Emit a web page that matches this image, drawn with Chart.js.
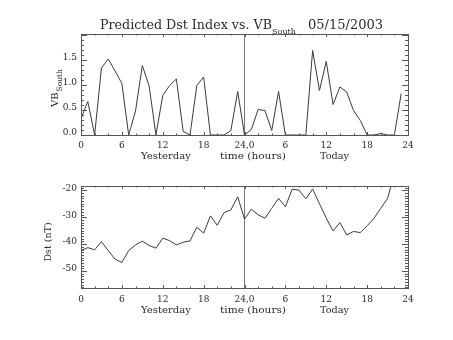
<!DOCTYPE html>
<html><head><meta charset="utf-8">
<script src="https://cdn.jsdelivr.net/npm/chart.js@4/dist/chart.umd.min.js"></script>
<style>
html,body{margin:0;padding:0;background:#fff;width:453px;height:340px;overflow:hidden}
canvas{position:absolute;left:0}
#c1{top:0}
#c2{top:170px}
</style></head><body>
<canvas id="c1" width="453" height="170"></canvas>
<canvas id="c2" width="453" height="170"></canvas>
<script>
// ---- data ----
const hours = [0,1,2,3,4,5,6,7,8,9,10,11,12,13,14,15,16,17,18,19,20,21,22,23,
               24,25,26,27,28,29,30,31,32,33,34,35,36,37,38,39,40,41,42,43,44,45,46,47];
const vbSouth = [0.33,0.67,0.00,1.34,1.52,1.28,1.03,0.00,0.48,1.39,0.98,0.00,
                 0.79,0.99,1.12,0.07,0.00,0.99,1.16,0.00,0.00,0.00,0.09,0.87,
                 0.00,0.11,0.51,0.49,0.09,0.87,0.00,0.00,0.00,0.00,1.69,0.89,
                 1.47,0.61,0.96,0.86,0.49,0.29,0.00,0.00,0.03,0.00,0.00,0.83];
const dst = [-42.4,-41.3,-42.1,-39.1,-42.4,-45.6,-46.8,-42.4,-40.3,-38.9,-40.5,-41.5,
             -37.8,-38.7,-40.3,-39.3,-38.8,-33.7,-35.9,-29.5,-33.0,-28.3,-27.3,-22.4,
             -30.7,-27.0,-29.1,-30.4,-26.7,-23.0,-26.1,-19.6,-19.9,-23.2,-19.5,-25.0,
             -30.3,-35.1,-32.0,-36.6,-35.3,-35.7,-33.2,-30.4,-26.7,-23.0,-14.0,-8.0];
const dayBoundary = 24;
const xTickValues = [0,6,12,18,24,30,36,42,48];
const xTickLabels = ['0','6','12','18','24,0','6','12','18','24'];
const vbTickValues = [0,0.5,1.0,1.5];
const vbTickLabels = ['0.0','0.5','1.0','1.5'];
const dstTickValues = [-50,-40,-30,-20];
const dstTickLabels = ['-50','-40','-30','-20'];
const xTitleParts = ['Yesterday','time (hours)','Today'];
const titleMain = 'Predicted Dst Index vs. VB';
const titleSub = 'South';
const titleDate = '05/15/2003';

// ---- styles ----
const FONT = '"DejaVu Serif", "Liberation Serif", serif';
const TXT = '#2a2a2a';
const LINE = '#3a3a3a';
const FRAME = '#555';

function fitText(ctx, text, x, y, w, size){
  ctx.font = size + 'px ' + FONT;
  const m = ctx.measureText(text).width;
  ctx.save(); ctx.translate(x, y); ctx.scale(w / m, 1);
  ctx.fillText(text, 0, 0); ctx.restore();
}

function framePlugin(conf){
  return {
    id: 'frame_' + conf.name,
    afterDatasetsDraw(chart){
      const ctx = chart.ctx, a = chart.chartArea;
      const xs = chart.scales.x, ys = chart.scales.y;
      ctx.save();
      ctx.strokeStyle = FRAME; ctx.lineWidth = 1;
      const L = Math.round(a.left), R = Math.round(a.right), T = Math.round(a.top), B = Math.round(a.bottom);
      ctx.strokeRect(L + 0.5, T + 0.5, R - L, B - T);
      ctx.beginPath();
      for (let h = 0; h <= 48; h += 2){
        const px = Math.round(xs.getPixelForValue(h)) + 0.5;
        const len = (h % 6 === 0) ? 3 : 1.5;
        ctx.moveTo(px, B); ctx.lineTo(px, B - len);
        ctx.moveTo(px, T); ctx.lineTo(px, T + len);
      }
      for (let k = conf.minorFrom; k <= conf.minorTo; k++){
        const v = k * conf.minorStep;
        const py = Math.round(ys.getPixelForValue(v)) + 0.5;
        if (py < T || py > B + 1) continue;
        const len = (k % conf.majorEvery === 0) ? 6 : 3;
        ctx.moveTo(L, py); ctx.lineTo(L + len, py);
        ctx.moveTo(R, py); ctx.lineTo(R - len, py);
      }
      ctx.stroke();
      ctx.restore();

      // text
      ctx.save();
      ctx.fillStyle = TXT; ctx.textAlign = 'left'; ctx.textBaseline = 'alphabetic';
      const xt = conf.xTitleBaseline;
      fitText(ctx, xTitleParts[0], 141, xt, 50, 9.5);
      fitText(ctx, xTitleParts[1], 220, xt, 66, 9.5);
      fitText(ctx, xTitleParts[2], 320, xt, 29, 9.5);
      if (conf.drawTitle){
        fitText(ctx, titleMain, 100, 29, 172, 12);
        fitText(ctx, titleSub, 272, 34, 24, 8);
        fitText(ctx, titleDate, 308, 29, 75, 12);
      }
      conf.yTitle(ctx);
      ctx.restore();
    }
  };
}

function buildChart(id, conf){
  return new Chart(document.getElementById(id), {
    type: 'line',
    data: {
      datasets: [
        { data: hours.map((h, i) => ({x: h, y: conf.values[i]})),
          borderColor: LINE, borderWidth: 1, pointRadius: 0, tension: 0, fill: false, clip: 0 },
        { data: [{x: dayBoundary, y: conf.yMin}, {x: dayBoundary, y: conf.yMax}],
          borderColor: '#777', borderWidth: 1, pointRadius: 0, fill: false, clip: 0 }
      ]
    },
    options: {
      responsive: false, animation: false, devicePixelRatio: 1,
      events: [],
      layout: { padding: { top: conf.padTop, left: 0, right: 45, bottom: 0 } },
      plugins: { legend: {display: false}, tooltip: {enabled: false}, title: {display: false} },
      scales: {
        x: {
          type: 'linear', min: 0, max: 48,
          afterBuildTicks: s => { s.ticks = xTickValues.map(v => ({value: v})); },
          afterFit: s => { s.height = conf.xHeight; },
          grid: {display: false, drawTicks: false}, border: {display: false},
          ticks: {
            callback: v => xTickLabels[xTickValues.indexOf(v)],
            maxRotation: 0, autoSkip: false, padding: conf.xPad,
            font: {family: FONT, size: 9}, color: TXT
          }
        },
        y: {
          type: 'linear', min: conf.yMin, max: conf.yMax,
          afterBuildTicks: s => { s.ticks = conf.yTickValues.map(v => ({value: v})); },
          afterFit: s => { s.width = 81; },
          grid: {display: false, drawTicks: false}, border: {display: false},
          ticks: {
            callback: v => conf.yTickLabels[conf.yTickValues.indexOf(v)],
            padding: 4, labelOffset: -2,
            font: {family: FONT, size: 9}, color: TXT
          }
        }
      }
    },
    plugins: [framePlugin(conf)]
  });
}

buildChart('c1', {
  name: 'vb', values: vbSouth, yMin: 0, yMax: 2.02,
  yTickValues: vbTickValues, yTickLabels: vbTickLabels,
  padTop: 34, xHeight: 35, xPad: 5, xTitleBaseline: 158.5,
  minorFrom: 0, minorTo: 20, minorStep: 0.1, majorEvery: 5, drawTitle: true,
  yTitle: ctx => {
    ctx.save(); ctx.translate(58, 107); ctx.rotate(-Math.PI / 2);
    ctx.font = '10px ' + FONT; ctx.fillText('VB', 0, 0);
    const w = ctx.measureText('VB').width;
    ctx.font = '7.5px ' + FONT; ctx.fillText('South', w + 1, 4);
    ctx.restore();
  }
});

buildChart('c2', {
  name: 'dst', values: dst, yMin: -56.3, yMax: -18.4,
  yTickValues: dstTickValues, yTickLabels: dstTickLabels,
  padTop: 16, xHeight: 52, xPad: 6, xTitleBaseline: 142.5,
  minorFrom: -56, minorTo: -19, minorStep: 1, majorEvery: 10, drawTitle: false,
  yTitle: ctx => {
    ctx.save(); ctx.translate(51, 72); ctx.rotate(-Math.PI / 2);
    ctx.font = '9.5px ' + FONT; ctx.textAlign = 'center';
    ctx.fillText('Dst (nT)', 0, 0);
    ctx.restore();
  }
});
</script>
</body></html>
